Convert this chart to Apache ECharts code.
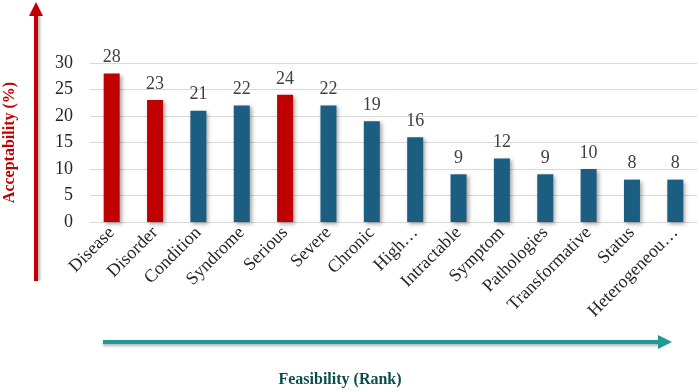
<!DOCTYPE html>
<html>
<head>
<meta charset="utf-8">
<script src="https://cdn.jsdelivr.net/npm/echarts@6/dist/echarts.min.js"></script>
<style>
  html, body { margin: 0; padding: 0; background: #fff; }
  #chart { width: 699px; height: 392px; }
</style>
</head>
<body>
<div id="chart"></div>
<script>
// data
var categories = ['Disease', 'Disorder', 'Condition', 'Syndrome', 'Serious', 'Severe', 'Chronic',
  'High…', 'Intractable', 'Symptom', 'Pathologies', 'Transformative', 'Status', 'Heterogeneou…'];
var acceptability = [28, 23, 21, 22, 24, 22, 19, 16, 9, 12, 9, 10, 8, 8];
var highlighted = ['Disease', 'Disorder', 'Serious'];
var yTicks = [0, 5, 10, 15, 20, 25, 30];

var RED = '#c00000';
var BLUE = '#1b5e82';
var TEAL = '#1e9a96';
var serif = '"Liberation Serif", "Times New Roman", serif';

var chart = echarts.init(document.getElementById('chart'));

var barData = acceptability.map(function (v, i) {
  return {
    value: v,
    itemStyle: { color: highlighted.indexOf(categories[i]) >= 0 ? RED : BLUE }
  };
});

var option = {
  animation: false,
  grid: { left: 90, right: 2, top: 63, bottom: 170, containLabel: false, outerBoundsMode: 'none' },
  xAxis: {
    type: 'category',
    data: categories,
    axisLine: { show: false },
    axisTick: { show: false },
    axisLabel: {
      rotate: 45, interval: 0, margin: 8,
      fontFamily: serif, fontSize: 18, color: '#262626'
    }
  },
  yAxis: {
    type: 'value',
    min: yTicks[0],
    max: yTicks[yTicks.length - 1],
    interval: 5,
    axisLine: { show: false },
    axisTick: { show: false },
    splitLine: { lineStyle: { color: '#d9d9d9', width: 1 } },
    axisLabel: { fontFamily: serif, fontSize: 18, color: '#262626', margin: 17 },
    name: 'Acceptability (%)',
    nameLocation: 'middle',
    nameGap: 72,
    nameTextStyle: { fontFamily: serif, fontWeight: 'bold', fontSize: 16, color: RED }
  },
  series: [{
    type: 'bar',
    data: barData,
    barWidth: 16,
    itemStyle: {
      shadowColor: 'rgba(0,0,0,0.35)',
      shadowBlur: 4,
      shadowOffsetX: 2,
      shadowOffsetY: 2
    },
    label: {
      show: true,
      position: 'top',
      distance: 7,
      fontFamily: serif,
      fontSize: 18,
      color: '#404040'
    }
  }],
  graphic: [
    // vertical red arrow
    {
      type: 'line',
      shape: { x1: 36, y1: 281, x2: 36, y2: 14 },
      style: { stroke: RED, lineWidth: 4, shadowColor: 'rgba(0,0,0,0.3)', shadowBlur: 3, shadowOffsetX: 2 }
    },
    {
      type: 'polygon',
      shape: { points: [[29, 16], [43, 16], [36, 2]] },
      style: { fill: RED }
    },
    // horizontal teal arrow
    {
      type: 'line',
      shape: { x1: 103, y1: 342, x2: 660, y2: 342 },
      style: { stroke: TEAL, lineWidth: 4, shadowColor: 'rgba(0,0,0,0.3)', shadowBlur: 3, shadowOffsetY: 2 }
    },
    {
      type: 'polygon',
      shape: { points: [[658, 335], [658, 349], [672, 342]] },
      style: { fill: TEAL }
    },
    // x title
    {
      type: 'text',
      x: 340, y: 380,
      style: {
        text: 'Feasibility (Rank)',
        font: 'bold 16px ' + serif,
        fill: '#0b4d4d',
        align: 'center',
        verticalAlign: 'middle'
      }
    }
  ]
};

chart.setOption(option);
</script>
</body>
</html>
